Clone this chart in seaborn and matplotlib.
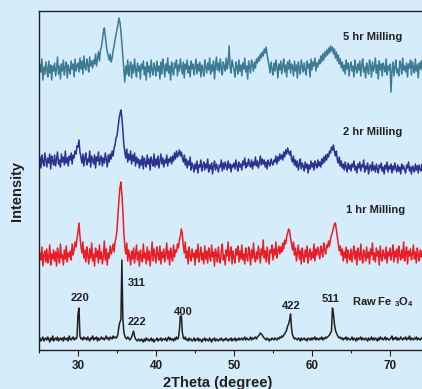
import numpy as np
import pandas as pd
import matplotlib
matplotlib.use("Agg")
import matplotlib.pyplot as plt
import seaborn as sns

# 2Theta grid, 0.125 degree steps from 25 to 75
two_theta = np.arange(25.0, 75.001, 0.125)

# Raw Fe3O4 (arbitrary intensity units; one line = 5 degrees)
raw = [
    10, 12, 9, 11, 13, 9, 11, 12, 10, 13, 11, 8, 12, 10, 14, 9, 11, 12, 10, 13, 9, 11, 12, 10, 12, 9, 13, 11, 10, 12, 9, 14, 11, 10, 12, 13, 10, 12, 11, 13,
    36, 42, 14, 11, 12, 10, 13, 11, 12, 10, 13, 11, 9, 12, 11, 14, 10, 12, 11, 13, 9, 12, 10, 11, 13, 11, 12, 10, 12, 14, 11, 12, 10, 13, 12, 11, 14, 12, 13, 12,
    13, 16, 24, 28, 30, 90, 32, 18, 14, 12, 11, 13, 12, 10, 11, 13, 16, 19, 14, 11, 10, 9, 11, 10, 9, 11, 10, 8, 11, 9, 12, 10, 11, 9, 10, 12, 9, 11, 8, 10,
    10, 12, 9, 11, 10, 12, 9, 11, 11, 10, 12, 9, 11, 13, 10, 12, 10, 11, 9, 12, 10, 13, 11, 12, 20, 34, 34, 18, 12, 11, 13, 10, 11, 9, 12, 10, 11, 9, 10, 12,
    9, 11, 10, 12, 9, 11, 10, 8, 11, 10, 12, 9, 11, 10, 9, 12, 10, 8, 11, 10, 12, 9, 11, 10, 9, 11, 10, 12, 10, 9, 11, 10, 12, 10, 9, 11, 10, 12, 9, 11,
    10, 12, 9, 11, 10, 12, 10, 11, 12, 10, 11, 13, 10, 12, 11, 10, 11, 13, 10, 12, 11, 12, 13, 11, 13, 14, 15, 17, 16, 15, 13, 12, 11, 10, 12, 11, 9, 11, 10, 12,
    11, 10, 12, 11, 10, 12, 11, 13, 12, 14, 13, 15, 16, 18, 20, 24, 26, 30, 36, 22, 15, 13, 11, 12, 11, 10, 12, 11, 9, 12, 10, 11, 12, 10, 11, 9, 12, 11, 10, 12,
    10, 12, 11, 13, 10, 12, 11, 10, 12, 11, 13, 10, 12, 11, 13, 12, 13, 14, 15, 17, 19, 42, 36, 26, 20, 17, 15, 13, 12, 13, 11, 12, 10, 12, 11, 13, 10, 12, 11, 10,
    11, 13, 10, 12, 11, 9, 12, 10, 12, 11, 13, 10, 12, 11, 10, 12, 11, 9, 12, 10, 11, 13, 10, 12, 10, 12, 11, 9, 12, 10, 13, 11, 12, 10, 11, 13, 10, 12, 11, 10,
    11, 12, 14, 10, 12, 11, 13, 10, 12, 10, 11, 13, 11, 10, 12, 11, 13, 10, 12, 11, 14, 10, 12, 11, 10, 12, 11, 13, 10, 12, 11, 10, 12, 11, 13, 10, 12, 11, 10, 12,
    11,
]

# 1 hr milling
mill_1hr = [
    86, 97, 90, 103, 84, 95, 99, 88, 101, 87, 93, 105, 85, 96, 91, 100, 89, 98, 84, 102, 94, 87, 106, 92, 95, 85, 100, 91, 104, 88, 97, 93, 99, 90, 106, 95, 101, 108, 103, 112,
    118, 127, 114, 104, 97, 108, 92, 100, 88, 103, 95, 86, 101, 92, 107, 89, 96, 84, 102, 93, 99, 87, 105, 91, 98, 86, 94, 109, 90, 101, 85, 97, 92, 104, 96, 100, 106, 98, 108, 112,
    120, 135, 150, 162, 168, 156, 140, 118, 104, 96, 107, 89, 100, 93, 85, 99, 91, 102, 87, 96, 105, 90, 98, 84, 100, 93, 88, 106, 92, 97, 86, 103, 90, 99, 84, 95, 108, 89, 101, 94,
    87, 103, 95, 90, 104, 86, 98, 92, 101, 88, 96, 107, 91, 99, 85, 102, 94, 89, 105, 93, 100, 98, 106, 102, 110, 114, 121, 116, 104, 97, 108, 92, 99, 86, 103, 94, 89, 101, 93, 97,
    85, 100, 92, 106, 88, 95, 103, 90, 97, 86, 104, 91, 99, 87, 102, 94, 89, 105, 93, 98, 84, 101, 96, 88, 103, 92, 87, 99, 106, 90, 95, 85, 100, 94, 108, 89, 97, 103, 86, 99,
    92, 87, 101, 95, 104, 88, 99, 91, 105, 90, 96, 86, 102, 94, 89, 103, 97, 85, 100, 92, 107, 93, 88, 98, 91, 104, 96, 87, 101, 95, 110, 92, 99, 88, 103, 94, 86, 100, 97, 105,
    90, 101, 95, 108, 92, 99, 104, 96, 103, 98, 107, 101, 110, 106, 113, 117, 121, 119, 112, 106, 100, 108, 95, 102, 89, 97, 105, 91, 99, 86, 102, 94, 88, 100, 93, 104, 87, 96, 101, 90,
    98, 92, 106, 89, 101, 95, 103, 97, 91, 104, 99, 93, 107, 100, 96, 105, 102, 109, 104, 111, 115, 118, 122, 126, 127, 120, 113, 106, 99, 104, 95, 101, 89, 98, 92, 103, 87, 100, 94, 90,
    101, 88, 97, 104, 91, 99, 85, 102, 95, 90, 106, 93, 87, 100, 96, 89, 103, 92, 98, 86, 101, 95, 107, 90, 97, 88, 102, 94, 99, 85, 104, 93, 89, 100, 95, 91, 103, 87, 98, 94,
    102, 90, 96, 105, 88, 99, 93, 101, 87, 104, 95, 90, 100, 92, 108, 89, 97, 103, 86, 99, 94, 101, 90, 96, 105, 91, 98, 87, 102, 95, 89, 100, 93, 99, 86, 104, 92, 97, 101, 88,
    96,
]

# 2 hr milling
mill_2hr = [
    186, 193, 182, 195, 188, 184, 197, 190, 183, 192, 187, 196, 181, 194, 189, 185, 195, 184, 191, 198, 186, 190, 183, 196, 188, 193, 185, 199, 187, 192, 184, 194, 190, 197, 186, 195, 192, 199, 196, 204,
    203, 210, 198, 193, 187, 196, 184, 192, 197, 185, 191, 188, 199, 183, 194, 190, 186, 195, 182, 193, 189, 198, 185, 191, 194, 184, 192, 187, 197, 190, 183, 195, 188, 196, 191, 199, 194, 202, 205, 212,
    214, 222, 230, 236, 240, 232, 220, 206, 198, 192, 201, 188, 196, 190, 199, 186, 195, 189, 197, 184, 193, 187, 191, 182, 190, 185, 194, 181, 192, 187, 183, 195, 186, 191, 180, 193, 188, 184, 196, 183,
    191, 185, 194, 182, 189, 196, 186, 192, 183, 190, 187, 195, 184, 191, 188, 193, 186, 194, 189, 197, 191, 199, 193, 196, 200, 194, 198, 192, 188, 195, 185, 191, 182, 189, 185, 193, 180, 187, 184, 178,
    186, 181, 189, 177, 185, 183, 190, 179, 184, 188, 180, 186, 182, 191, 178, 185, 181, 187, 176, 184, 189, 180, 186, 182, 178, 185, 183, 190, 179, 187, 181, 188, 184, 180, 189, 182, 186, 178, 185, 183,
    187, 181, 190, 184, 179, 188, 183, 186, 180, 189, 185, 192, 182, 187, 184, 191, 186, 183, 190, 181, 188, 185, 193, 184, 189, 182, 187, 194, 185, 191, 186, 190, 183, 188, 181, 190, 186, 184, 191, 187,
    185, 190, 188, 194, 186, 193, 189, 196, 191, 195, 190, 198, 193, 200, 196, 202, 198, 195, 199, 191, 188, 194, 185, 190, 183, 189, 180, 186, 191, 181, 187, 184, 179, 188, 182, 186, 177, 185, 181, 189,
    183, 187, 180, 189, 185, 182, 190, 184, 188, 183, 191, 186, 193, 188, 195, 190, 196, 193, 199, 197, 203, 200, 205, 198, 194, 199, 190, 187, 193, 184, 189, 182, 186, 180, 188, 183, 178, 187, 181, 185,
    179, 186, 183, 189, 180, 184, 177, 186, 182, 188, 179, 185, 183, 190, 178, 184, 181, 187, 176, 183, 185, 179, 188, 180, 184, 178, 186, 181, 177, 185, 182, 187, 179, 183, 176, 185, 181, 188, 178, 184,
    181, 186, 177, 184, 180, 187, 182, 178, 185, 179, 183, 176, 186, 181, 184, 180, 177, 185, 182, 188, 179, 183, 176, 184, 182, 178, 186, 180, 184, 177, 185, 181, 179, 186, 181, 177, 184, 180, 183, 178,
    182,
]

# 5 hr milling
mill_5hr = [
    272, 286, 278, 291, 270, 283, 276, 288, 281, 273, 289, 277, 285, 270, 284, 279, 287, 274, 282, 293, 276, 284, 271, 286, 279, 290, 275, 283, 288, 272, 285, 280, 276, 289, 281, 286, 273, 291, 279, 284,
    287, 278, 292, 281, 289, 276, 294, 283, 280, 291, 285, 278, 293, 284, 289, 282, 290, 286, 296, 284, 292, 298, 289, 300, 303, 310, 318, 322, 314, 305, 298, 294, 290, 296, 288, 292, 299, 304, 310, 316,
    320, 326, 332, 328, 319, 306, 292, 280, 268, 284, 276, 290, 274, 283, 288, 272, 285, 277, 291, 280, 273, 287, 279, 284, 271, 286, 281, 289, 275, 283, 270, 288, 278, 284, 273, 290, 280, 275, 287, 282,
    274, 289, 279, 284, 271, 288, 276, 291, 283, 273, 286, 279, 292, 277, 284, 270, 288, 280, 275, 287, 282, 290, 274, 285, 279, 291, 283, 276, 288, 272, 286, 281, 290, 277, 284, 273, 289, 281, 286, 275,
    283, 291, 276, 286, 279, 288, 273, 285, 281, 274, 290, 283, 277, 287, 280, 292, 276, 285, 279, 289, 271, 284, 293, 280, 287, 278, 291, 282, 275, 288, 284, 279, 292, 281, 286, 304, 283, 277, 290, 285,
    280, 273, 288, 283, 276, 290, 279, 285, 274, 287, 281, 292, 278, 284, 271, 289, 283, 277, 290, 285, 279, 288, 282, 291, 287, 293, 289, 296, 292, 298, 294, 301, 297, 303, 295, 289, 284, 277, 288, 281,
    275, 287, 279, 290, 283, 272, 286, 280, 289, 276, 284, 291, 278, 285, 273, 288, 281, 290, 277, 286, 283, 274, 289, 279, 285, 272, 288, 281, 276, 290, 284, 278, 287, 280, 275, 289, 282, 286, 273, 291,
    280, 288, 284, 292, 279, 287, 283, 290, 286, 294, 288, 296, 290, 298, 293, 300, 295, 302, 297, 304, 299, 303, 296, 301, 292, 298, 289, 295, 286, 291, 282, 288, 279, 285, 276, 290, 281, 287, 274, 284,
    288, 279, 284, 273, 290, 282, 277, 286, 280, 289, 274, 285, 291, 278, 283, 272, 287, 281, 276, 290, 284, 273, 288, 279, 283, 292, 277, 285, 271, 289, 280, 286, 274, 287, 282, 278, 291, 275, 284, 280,
    286, 258, 279, 288, 274, 283, 290, 277, 281, 274, 289, 285, 276, 292, 280, 284, 278, 287, 273, 286, 282, 290, 275, 288, 283, 277, 291, 279, 285, 272, 287, 281, 289, 280, 276, 288, 283, 274, 290, 285,
    280,
]

series_names = ["Raw", "1 hr", "2 hr", "5 hr"]
series_colors = ["#231f20", "#ed1c24", "#2e3192", "#3c7b93"]

# hkl labels for the raw pattern
hkl_labels = ["220", "311", "222", "400", "422", "511"]
hkl_x = [30.26, 37.56, 37.6, 43.5, 57.4, 62.4]
hkl_y = [52, 67, 28, 38, 44, 51]

df = pd.DataFrame({
    "two_theta": np.tile(two_theta, 4),
    "intensity": np.concatenate([raw, mill_1hr, mill_2hr, mill_5hr]),
    "sample": np.repeat(series_names, len(two_theta)),
})

bg = "#d5edfa"
txt = "#231f20"
plt.rcParams["font.family"] = ["Liberation Sans", "DejaVu Sans"]
plt.rcParams["mathtext.fontset"] = "custom"
plt.rcParams["mathtext.rm"] = "Liberation Sans:bold"
plt.rcParams["mathtext.bf"] = "Liberation Sans:bold"

fig = plt.figure(figsize=(4.22, 3.89), dpi=100, facecolor=bg)
ax = fig.add_axes([39 / 422, 39 / 389, 429 / 422, 339 / 389])
ax.set_facecolor(bg)

sns.lineplot(data=df, x="two_theta", y="intensity", hue="sample",
             palette=dict(zip(series_names, series_colors)),
             linewidth=1.1, legend=False, ax=ax, estimator=None, sort=False)

ax.set_xlim(25, 80)
ax.set_ylim(0, 339)
ax.set_xticks([30, 40, 50, 60, 70])
ax.set_xticks([25, 35, 45, 55, 65, 75], minor=True)
ax.set_yticks([])
ax.tick_params(axis="x", which="major", length=4, width=0.8, color=txt,
               labelsize=8.5, labelcolor=txt, pad=3)
ax.tick_params(axis="x", which="minor", length=2.5, width=0.8, color=txt)
for lab in ax.get_xticklabels():
    lab.set_fontweight("bold")
for s in ax.spines.values():
    s.set_color(txt)
    s.set_linewidth(1.0)

ax.set_xlabel("2Theta (degree)", fontsize=10.5, fontweight="bold", color=txt)
ax.xaxis.set_label_coords((217.5 - 39) / 429, -0.077)
ax.set_ylabel("Intensity", fontsize=10.5, fontweight="bold", color=txt)
ax.yaxis.set_label_coords(-0.035, 0.469)

ax.text(67.8, 313, "5 hr Milling", fontsize=8, fontweight="bold", color=txt, ha="center", va="center")
ax.text(67.8, 218, "2 hr Milling", fontsize=8, fontweight="bold", color=txt, ha="center", va="center")
ax.text(68.1, 140, "1 hr Milling", fontsize=8, fontweight="bold", color=txt, ha="center", va="center")
ax.text(65.1, 48, r"Raw Fe $_{3}$O$_{4}$", fontsize=8, fontweight="bold", color=txt, ha="left", va="center")

for lab, x, y in zip(hkl_labels, hkl_x, hkl_y):
    ax.text(x, y, lab, fontsize=8, fontweight="bold", color=txt, ha="center", va="center")

fig.savefig("out.png", dpi=100, facecolor=bg)
